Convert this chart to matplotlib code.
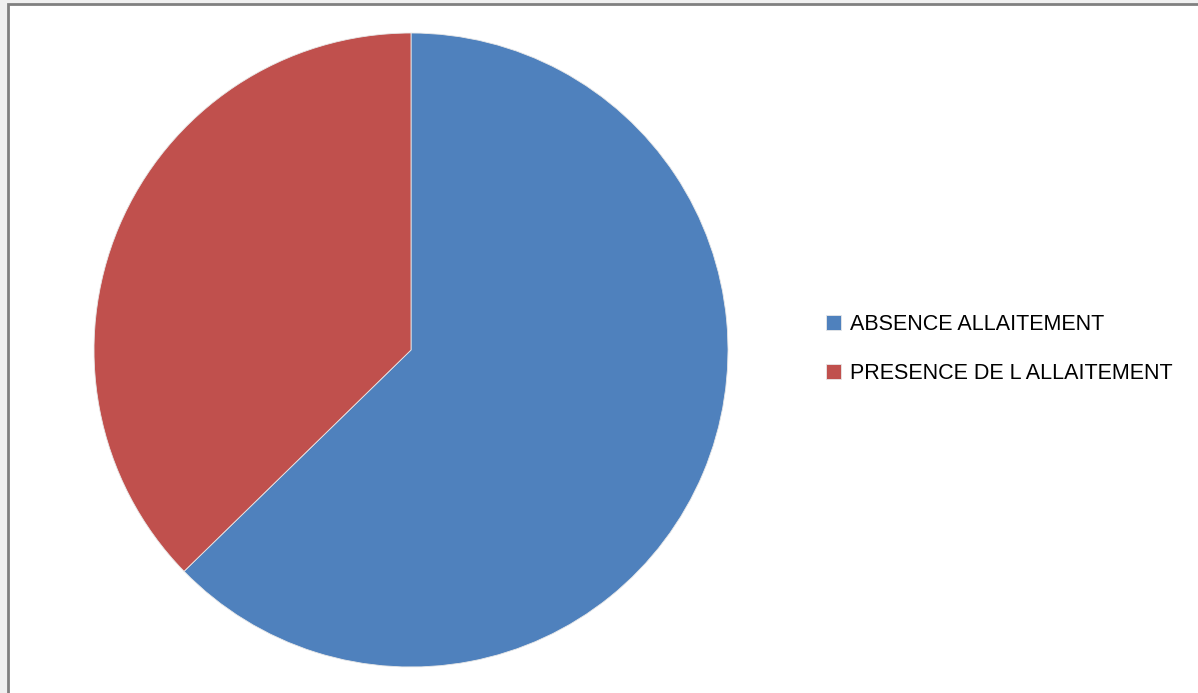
import matplotlib.pyplot as plt
from matplotlib.patches import Rectangle

labels = ["ABSENCE ALLAITEMENT", "PRESENCE DE L ALLAITEMENT"]
values = [62.7, 37.3]
colors = ["#4F81BD", "#C0504D"]

W, H = 1198, 693
fig = plt.figure(figsize=(W / 100, H / 100), dpi=100)
fig.patch.set_facecolor("#f0f0f0")

# chart area frame (behind the pie)
fig.add_artist(Rectangle((8 / W, -0.05), 1.1, (H - 4) / H + 0.05,
                         transform=fig.transFigure, facecolor="white",
                         edgecolor="#808080", linewidth=2, zorder=-5))

r = 317
cx, cy = 411, 350
ax = fig.add_axes([(cx - r) / W, (H - cy - r) / H, 2 * r / W, 2 * r / H])
ax.set_zorder(1)
ax.patch.set_visible(False)
wedges, _ = ax.pie(values, colors=colors, startangle=90, counterclock=False,
                   radius=1, wedgeprops=dict(edgecolor="#e8e8e8", linewidth=0.6))
ax.set_xlim(-1, 1)
ax.set_ylim(-1, 1)
ax.set_aspect("equal")
ax.axis("off")

leg = fig.legend(wedges, labels, loc="center left", bbox_to_anchor=(807 / W, 1 - 349 / H),
                 frameon=False, prop={"family": "Liberation Sans", "size": 15.5},
                 handlelength=0.7, handleheight=0.7, handletextpad=0.4,
                 labelspacing=1.3)
leg.set_zorder(2)

fig.savefig("out.png", dpi=100)
